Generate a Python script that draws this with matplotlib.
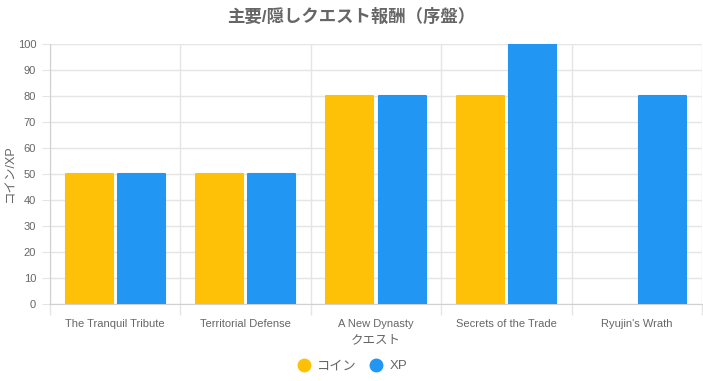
import numpy as np
import matplotlib.pyplot as plt

plt.rcParams['font.family'] = ['Liberation Sans', 'Noto Sans CJK JP']

quests = ["The Tranquil Tribute", "Territorial Defense", "A New Dynasty",
          "Secrets of the Trade", "Ryujin's Wrath"]
coins = [50, 50, 80, 80, 0]
xp = [50, 50, 80, 100, 80]
series_labels = ["コイン", "XP"]
colors = ["#FFC107", "#2196F3"]

fig = plt.figure(figsize=(7.03, 3.81), dpi=100)
ax = fig.add_axes([50 / 703, 77 / 381, 652 / 703, 260 / 381])

x = np.arange(len(quests))
w = 0.8 / 2 * 0.9
for off, vals, c, lab in [(-0.2, coins, colors[0], series_labels[0]),
                          (0.2, xp, colors[1], series_labels[1])]:
    bars = ax.bar(x + off, vals, width=w, color=c, edgecolor=c,
                  linewidth=1.5, label=lab, zorder=3)
    for b, v in zip(bars, vals):
        b.set_joinstyle('round')
        if v == 0:
            b.set_visible(False)

ax.set_xlim(-0.5, len(quests) - 0.5)
ax.set_ylim(0, 100)
ax.set_yticks(range(0, 101, 10))
ax.set_xticks(x)
ax.set_xticklabels(quests)
ax.set_xticks(np.arange(-0.5, len(quests), 1), minor=True)

ax.grid(axis='y', color='#e5e5e5', linewidth=1, zorder=0)
ax.grid(axis='x', which='minor', color='#e5e5e5', linewidth=1, zorder=0)
ax.tick_params(axis='x', which='major', length=0, pad=11, labelsize=8, labelcolor='#666666')
ax.tick_params(axis='x', which='minor', length=8, color='#e5e5e5', width=1)
ax.tick_params(axis='y', length=6, color='#e5e5e5', pad=4, labelsize=8, labelcolor='#666666')

for s in ['top', 'right']:
    ax.spines[s].set_visible(False)
ax.spines['left'].set_color('#d0d0d0')
ax.spines['bottom'].set_color('#d0d0d0')

ax.set_xlabel("クエスト", fontsize=9, color='#666666')
ax.xaxis.set_label_coords(0.5, -(340 - 304) / 260)
ax.xaxis.label.set_va('center')
ax.set_ylabel("コイン/XP", fontsize=9, color='#666666')
ax.yaxis.set_label_coords(-(50 - 10) / 652, 0.5)
ax.yaxis.label.set_va('center')
fig.suptitle("主要/隠しクエスト報酬（序盤）", fontsize=12.5, fontweight='bold',
             color='#666666', y=0.98)

handles = [plt.Line2D([], [], marker='o', linestyle='', markersize=9,
                      markerfacecolor=c, markeredgecolor=c) for c in colors]
fig.legend(handles, series_labels, loc='center', bbox_to_anchor=(0.5, 15 / 381),
           ncol=2, frameon=False, fontsize=9.5, labelcolor='#666666',
           handletextpad=0.4, columnspacing=0.9, handlelength=1.2)

fig.savefig("out.png", dpi=100)
